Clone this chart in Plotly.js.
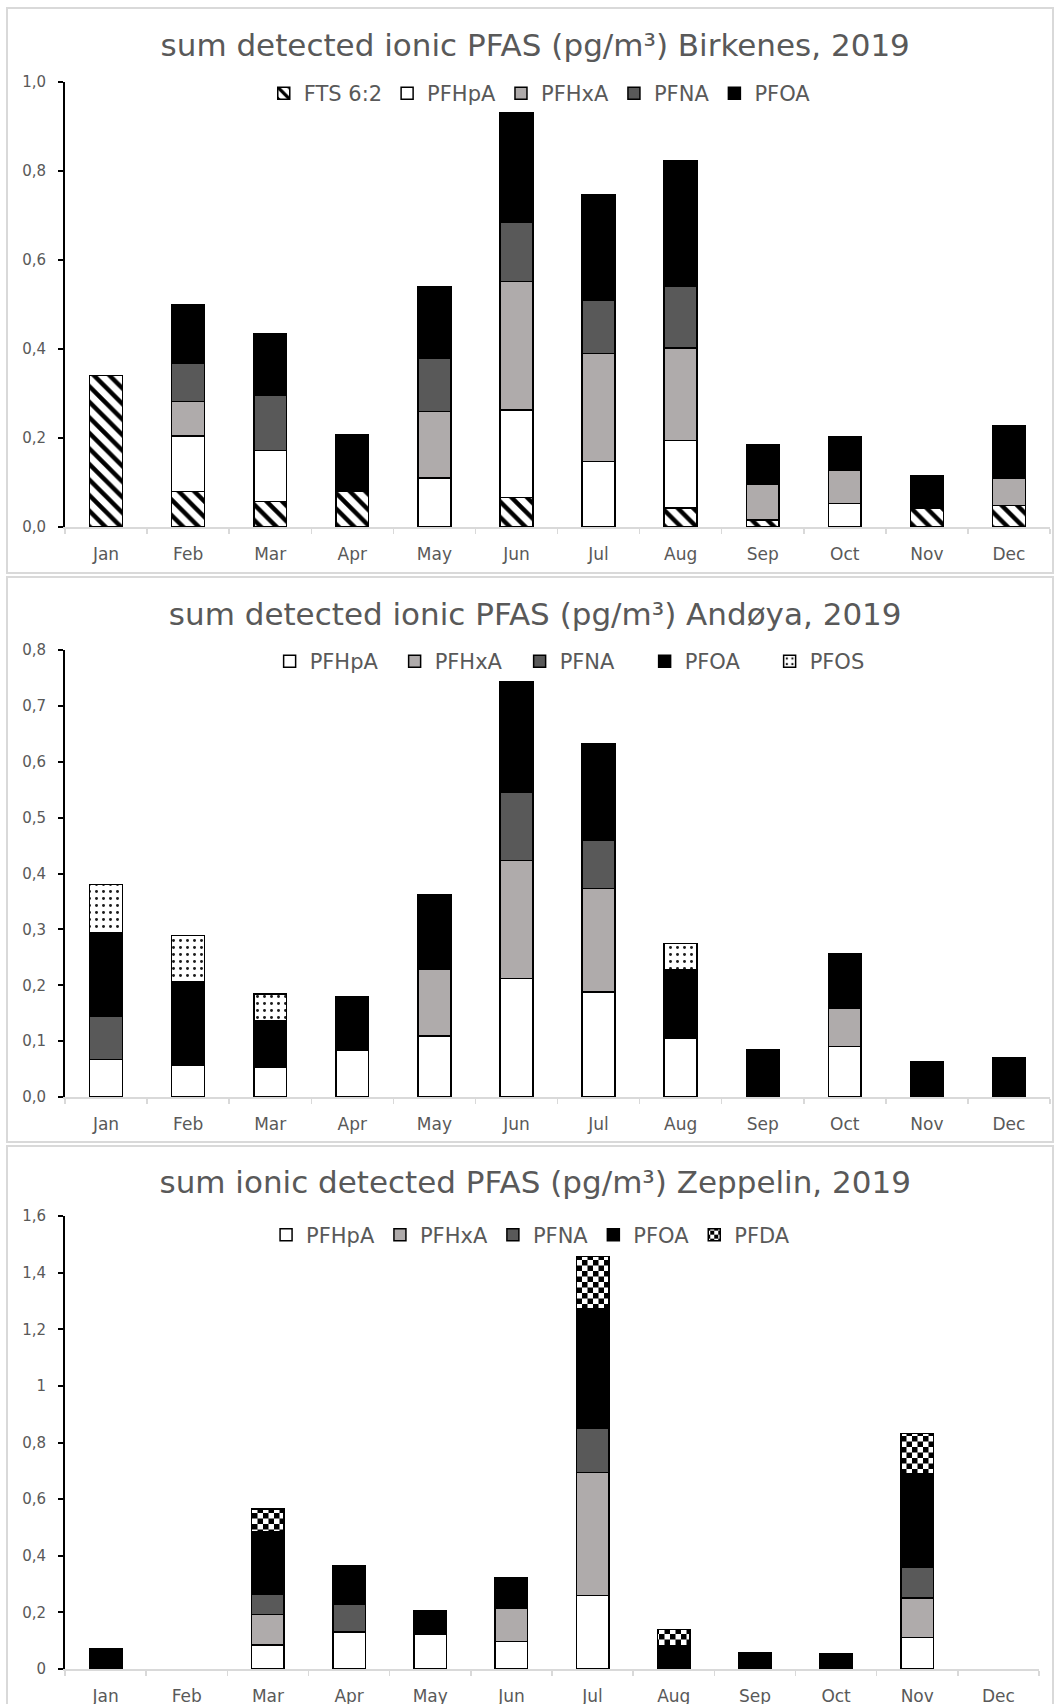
<!DOCTYPE html>
<html>
<head>
<meta charset="utf-8">
<script src="https://cdn.plot.ly/plotly-3.0.1.min.js"></script>
<style>
  html, body { margin: 0; padding: 0; background: #fff; width: 1054px; height: 1704px; overflow: hidden; }
  .panel { position: absolute; left: 6px; width: 1048px; box-sizing: border-box; border: 2px solid #d9d9d9; background: #fff; }
</style>
</head>
<body>
<div id="birkenes" class="panel" style="top:7px;height:567px"></div>
<div id="andoya" class="panel" style="top:576px;height:567px"></div>
<div id="zeppelin" class="panel" style="top:1145px;height:620px"></div>
<script>
// Monthly categories shared by all three stations
const months = ['Jan', 'Feb', 'Mar', 'Apr', 'May', 'Jun', 'Jul', 'Aug', 'Sep', 'Oct', 'Nov', 'Dec'];

// Birkenes 2019, pg/m3 per compound (null = not detected)
const birkFTS62 = [0.341, 0.080, 0.057, 0.080, null, 0.066, null, 0.043, 0.016, null, 0.043, 0.048];
const birkPFHpA = [null, 0.125, 0.115, null, 0.110, 0.197, 0.147, 0.151, null, 0.053, null, null];
const birkPFHxA = [null, 0.077, null, null, 0.150, 0.289, 0.243, 0.208, 0.080, 0.074, null, 0.061];
const birkPFNA  = [null, 0.085, 0.124, null, 0.119, 0.133, 0.120, 0.139, null, null, null, null];
const birkPFOA  = [null, 0.133, 0.139, 0.127, 0.161, 0.245, 0.237, 0.282, 0.088, 0.076, 0.072, 0.118];

// Andøya 2019
const andPFHpA = [0.067, 0.057, 0.054, 0.084, 0.109, 0.212, 0.188, 0.106, null, 0.090, null, null];
const andPFHxA = [null, null, null, null, 0.120, 0.211, 0.185, null, null, 0.069, null, null];
const andPFNA  = [0.078, null, null, null, null, 0.123, 0.086, null, null, null, null, null];
const andPFOA  = [0.149, 0.150, 0.083, 0.095, 0.133, 0.198, 0.174, 0.121, 0.084, 0.097, 0.063, 0.071];
const andPFOS  = [0.086, 0.082, 0.047, null, null, null, null, 0.048, null, null, null, null];

// Zeppelin 2019
const zepPFHpA = [null, null, 0.085, 0.131, 0.122, 0.098, 0.260, null, null, null, 0.111, null];
const zepPFHxA = [null, null, 0.108, null, null, 0.117, 0.434, null, null, null, 0.139, null];
const zepPFNA  = [null, null, 0.071, 0.097, null, null, 0.156, null, null, null, 0.110, null];
const zepPFOA  = [0.073, null, 0.222, 0.138, 0.083, 0.106, 0.424, 0.082, 0.059, 0.054, 0.331, null];
const zepPFDA  = [null, null, 0.080, null, null, null, 0.183, 0.057, null, null, 0.140, null];

// Y-axis ticks per station
const birkTickVals = [0, 0.2, 0.4, 0.6, 0.8, 1.0];
const birkTickText = ['0,0', '0,2', '0,4', '0,6', '0,8', '1,0'];
const andTickVals = [0, 0.1, 0.2, 0.3, 0.4, 0.5, 0.6, 0.7, 0.8];
const andTickText = ['0,0', '0,1', '0,2', '0,3', '0,4', '0,5', '0,6', '0,7', '0,8'];
const zepTickVals = [0, 0.2, 0.4, 0.6, 0.8, 1.0, 1.2, 1.4, 1.6];
const zepTickText = ['0', '0,2', '0,4', '0,6', '0,8', '1', '1,2', '1,4', '1,6'];

// Fill styles per compound
const STYLE = {
  'FTS 6:2': { color: '#ffffff', pattern: { shape: '\\', fgcolor: '#000000', bgcolor: '#ffffff', size: 11, solidity: 0.4 } },
  'PFHpA':   { color: '#ffffff' },
  'PFHxA':   { color: '#afabab' },
  'PFNA':    { color: '#595959' },
  'PFOA':    { color: '#000000' },
  'PFOS':    { color: '#ffffff', pattern: { shape: '.', fgcolor: '#1a1a1a', bgcolor: '#ffffff', size: 7, solidity: 0.14 } },
  'PFDA':    { color: '#ffffff', pattern: { shape: '+', fgcolor: '#000000', bgcolor: '#ffffff', size: 11, solidity: 0.5 } }
};

const GREY = '#595959';
const FONT = 'DejaVu Sans';

function barTrace(name, values) {
  const st = STYLE[name];
  const marker = { color: st.color, line: { color: '#000000', width: 1.5 } };
  if (st.pattern) marker.pattern = st.pattern;
  return { type: 'bar', name: name, x: months, y: values, marker: marker, hoverinfo: 'skip' };
}

function panelLayout(opts) {
  const legend = {
    orientation: 'h', traceorder: 'normal',
    x: opts.legendX, xanchor: 'center',
    y: opts.legendY, yanchor: 'middle',
    font: { family: FONT, size: 21, color: GREY },
    bgcolor: 'rgba(0,0,0,0)', borderwidth: 0
  };
  if (opts.entrywidth) legend.entrywidth = opts.entrywidth;
  return {
    width: 1044,
    height: opts.height,
    margin: { l: 57, r: opts.r, t: opts.t, b: opts.b, pad: 0 },
    paper_bgcolor: '#ffffff',
    plot_bgcolor: '#ffffff',
    barmode: 'stack',
    bargap: 0.6,
    title: {
      text: opts.title,
      font: { family: FONT, size: 31, color: GREY },
      xref: 'container', x: 0.505, xanchor: 'center',
      yref: 'container', y: opts.titleY, yanchor: 'middle'
    },
    showlegend: true,
    legend: legend,
    xaxis: {
      type: 'category',
      showline: true, linecolor: '#d9d9d9', linewidth: 2,
      ticks: 'outside', tickson: 'boundaries', ticklen: 5, tickwidth: 1.5, tickcolor: '#d9d9d9',
      tickfont: { family: FONT, size: 17, color: GREY },
      ticklabelstandoff: 11,
      showgrid: false, zeroline: false
    },
    yaxis: {
      range: opts.range,
      tickmode: 'array', tickvals: opts.tickvals, ticktext: opts.ticktext,
      showline: true, linecolor: '#000000', linewidth: 2,
      ticks: 'outside', ticklen: 5, tickwidth: 2, tickcolor: '#000000',
      tickfont: { family: FONT, size: 15, color: GREY },
      ticklabelstandoff: 9,
      showgrid: false, zeroline: false
    }
  };
}

// Turn the '+' pattern tiles into a checkerboard for PFDA
function checkerPatterns(gd) {
  gd.querySelectorAll('pattern').forEach(function (p) {
    const key = p.__data__;
    if (typeof key !== 'string' || key.charAt(0) !== '+') return;
    const s = parseFloat(p.getAttribute('width'));
    const h = s / 2;
    const path = p.querySelector('path');
    if (!path) return;
    path.setAttribute('d', 'M0,0H' + h + 'V' + h + 'H0Z M' + h + ',' + h + 'H' + s + 'V' + s + 'H' + h + 'Z');
    path.style.fill = '#000000';
    path.style.stroke = 'none';
  });
}

const config = { staticPlot: true, displayModeBar: false };

Plotly.newPlot('birkenes', [
  barTrace('FTS 6:2', birkFTS62),
  barTrace('PFHpA', birkPFHpA),
  barTrace('PFHxA', birkPFHxA),
  barTrace('PFNA', birkPFNA),
  barTrace('PFOA', birkPFOA)
], panelLayout({
  title: 'sum detected ionic PFAS (pg/m³) Birkenes, 2019',
  height: 563, r: 2, t: 73, b: 45, titleY: 0.936,
  legendX: 0.482, legendY: 0.974,
  range: [0, 1.0], tickvals: birkTickVals, ticktext: birkTickText
}), config);

Plotly.newPlot('andoya', [
  barTrace('PFHpA', andPFHpA),
  barTrace('PFHxA', andPFHxA),
  barTrace('PFNA', andPFNA),
  barTrace('PFOA', andPFOA),
  barTrace('PFOS', andPFOS)
], panelLayout({
  title: 'sum detected ionic PFAS (pg/m³) Andøya, 2019',
  height: 563, r: 2, t: 72, b: 44, titleY: 0.936,
  legendX: 0.525, legendY: 0.974, entrywidth: 80,
  range: [0, 0.8], tickvals: andTickVals, ticktext: andTickText
}), config);

Plotly.newPlot('zeppelin', [
  barTrace('PFHpA', zepPFHpA),
  barTrace('PFHxA', zepPFHxA),
  barTrace('PFNA', zepPFNA),
  barTrace('PFOA', zepPFOA),
  barTrace('PFDA', zepPFDA)
], panelLayout({
  title: 'sum ionic detected PFAS (pg/m³) Zeppelin, 2019',
  height: 616, r: 13, t: 69, b: 94, titleY: 0.943,
  legendX: 0.478, legendY: 0.958,
  range: [0, 1.6], tickvals: zepTickVals, ticktext: zepTickText
}), config).then(function (gd) {
  checkerPatterns(gd);
  gd.on('plotly_afterplot', function () { checkerPatterns(gd); });
});
</script>
</body>
</html>
